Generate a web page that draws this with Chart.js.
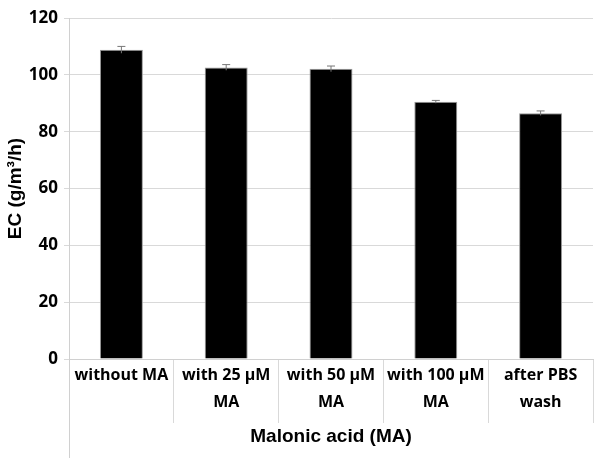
<!DOCTYPE html>
<html>
<head>
<meta charset="utf-8">
<script src="https://cdn.jsdelivr.net/npm/chart.js@4/dist/chart.umd.min.js"></script>
<style>
  html, body { margin: 0; padding: 0; background: #fff; }
  #wrap { width: 597px; height: 458px; }
</style>
</head>
<body>
<div id="wrap"><canvas id="chart"></canvas></div>
<script>
const categories = [
    'without MA',
    ['with 25 µM', 'MA'],
    ['with 50 µM', 'MA'],
    ['with 100 µM', 'MA'],
    ['after PBS', 'wash']
]
const ecValues = [108.8, 102.6, 102.1, 90.5, 86.5]
const ecErrors = [1.2, 1.0, 1.0, 0.5, 0.8]
const yTicks = [0, 20, 40, 60, 80, 100, 120]

const tickFont = '"Open Sans", sans-serif'
const titleFont = '"Liberation Sans", Arial, sans-serif'

// error bars drawn on top of the bars
const errorBars = {
    id: 'errorBars',
    afterDatasetsDraw(chart) {
        const ctx = chart.ctx
        const y = chart.scales.y
        const meta = chart.getDatasetMeta(0)
        ctx.save()
        ctx.strokeStyle = '#777'
        ctx.lineWidth = 1
        meta.data.forEach((bar, i) => {
            const top = y.getPixelForValue(ecValues[i] + ecErrors[i])
            const bottom = y.getPixelForValue(ecValues[i] - ecErrors[i])
            ctx.beginPath()
            ctx.moveTo(bar.x, top)
            ctx.lineTo(bar.x, bottom)
            ctx.moveTo(bar.x - 4, top)
            ctx.lineTo(bar.x + 4, top)
            ctx.stroke()
        })
        ctx.restore()
    }
}

// left axis line continues down through the label area
const axisExtend = {
    id: 'axisExtend',
    afterDraw(chart) {
        const ctx = chart.ctx
        const area = chart.chartArea
        ctx.save()
        ctx.strokeStyle = '#d0d0d0'
        ctx.lineWidth = 1
        ctx.beginPath()
        ctx.moveTo(Math.round(area.left) + 0.5, area.bottom)
        ctx.lineTo(Math.round(area.left) + 0.5, chart.height)
        ctx.stroke()
        ctx.restore()
    }
}

new Chart(document.getElementById('chart'), {
    type: 'bar',
    data: {
        labels: categories,
        datasets: [{
            data: ecValues,
            backgroundColor: '#000',
            borderColor: '#999',
            borderWidth: 1,
            categoryPercentage: 1,
            barPercentage: 0.41
        }]
    },
    options: {
        responsive: true,
        maintainAspectRatio: false,
        animation: false,
        layout: { padding: { top: 18, right: 4, bottom: 0, left: 0 } },
        plugins: {
            legend: { display: false },
            tooltip: { enabled: false }
        },
        scales: {
            x: {
                offset: true,
                grid: {
                    offset: true,
                    drawOnChartArea: false,
                    tickLength: 64,
                    color: '#d9d9d9'
                },
                border: { color: '#d0d0d0' },
                ticks: {
                    padding: -61,
                    maxRotation: 0,
                    autoSkip: false,
                    color: '#000',
                    font: { family: tickFont, size: 16, weight: 'bold', lineHeight: 1.7 }
                },
                title: {
                    display: true,
                    text: 'Malonic acid (MA)',
                    color: '#000',
                    padding: { top: 0, bottom: 10 },
                    font: { family: titleFont, size: 19, weight: 'bold' }
                },
                afterFit(scale) { scale.height = 99 }
            },
            y: {
                min: 0,
                max: 120,
                afterBuildTicks(scale) {
                    scale.ticks = yTicks.map(v => ({ value: v }))
                },
                grid: { color: '#d9d9d9', tickLength: 5 },
                border: { color: '#d0d0d0' },
                ticks: {
                    padding: 6,
                    color: '#000',
                    font: { family: tickFont, size: 17, weight: 'bold' }
                },
                title: {
                    display: true,
                    text: 'EC (g/m³/h)',
                    color: '#000',
                    padding: { top: 4, bottom: 0 },
                    font: { family: titleFont, size: 19, weight: 'bold' }
                },
                afterFit(scale) { scale.width = 69 }
            }
        }
    },
    plugins: [errorBars, axisExtend]
})
</script>
</body>
</html>
